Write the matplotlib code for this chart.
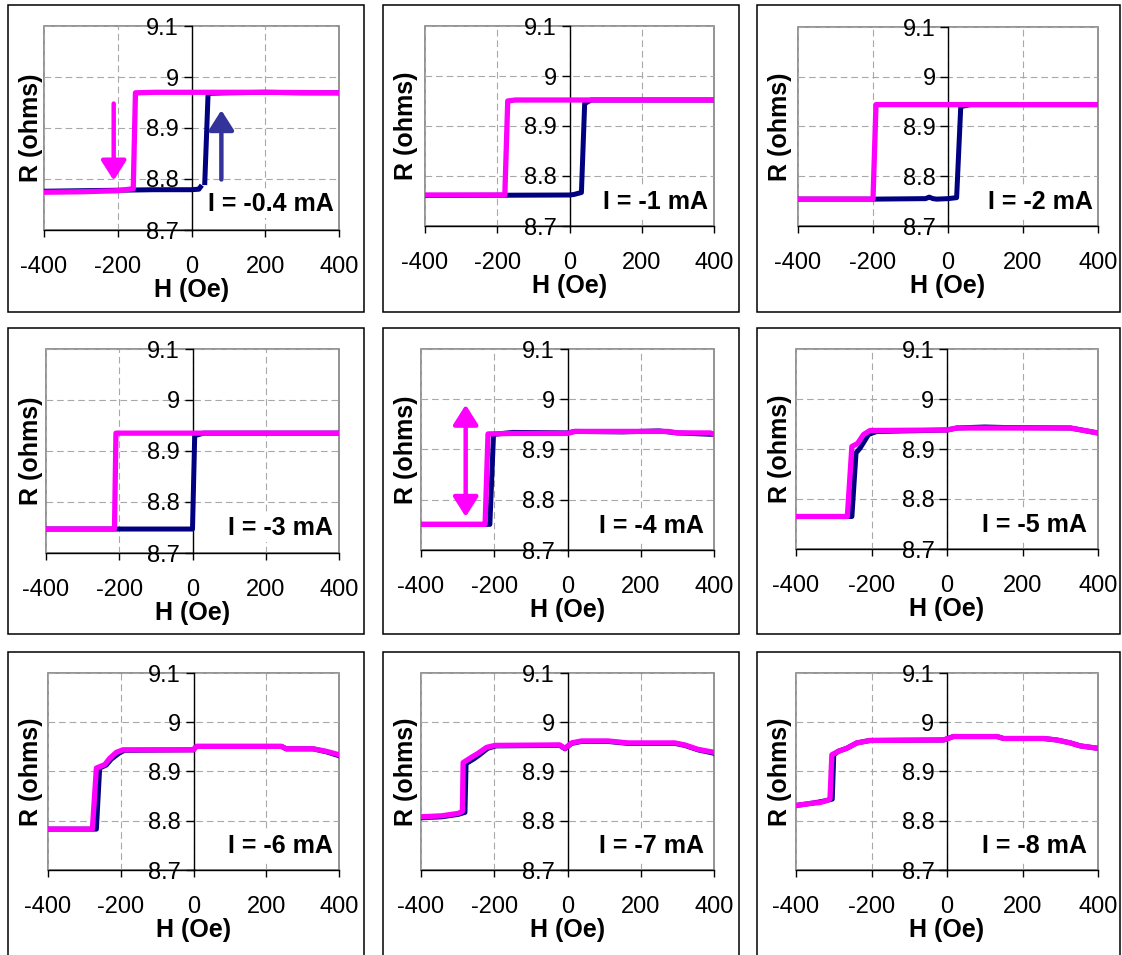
import numpy as np
import matplotlib
matplotlib.use('Agg')
import matplotlib.pyplot as plt
from matplotlib.patches import Rectangle

plt.rcParams['font.family'] = ['Liberation Sans', 'DejaVu Sans']
plt.rcParams['axes.unicode_minus'] = False

nan = np.nan

# ---------------- data ----------------
panel_labels = ['I = -0.4 mA', 'I = -1 mA', 'I = -2 mA',
                'I = -3 mA', 'I = -4 mA', 'I = -5 mA',
                'I = -6 mA', 'I = -7 mA', 'I = -8 mA']

x_ticks = [-400, -200, 0, 200, 400]
x_tick_labels = ['-400', '-200', '0', '200', '400']
y_ticks = [8.7, 8.8, 8.9, 9.0, 9.1]
y_tick_labels = ['8.7', '8.8', '8.9', '9', '9.1']

# blue sweep (up) and magenta sweep (down), one pair per panel
h_up_1 = [-400, -300, -200, -100, 0, 20, 24, nan, 36, 45, 100, 200, 300, 400]
r_up_1 = [8.776, 8.777, 8.778, 8.779, 8.779, 8.780, 8.784, nan, 8.793, 8.968, 8.969, 8.970, 8.969, 8.969]
h_dn_1 = [-400, -300, -200, -158, -152, -100, 0, 200, 400]
r_dn_1 = [8.774, 8.775, 8.777, 8.781, 8.969, 8.970, 8.970, 8.970, 8.969]

h_up_2 = [-400, 0, 12, 33, 42, 60, 400]
r_up_2 = [8.761, 8.762, 8.763, 8.767, 8.945, 8.952, 8.952]
h_dn_2 = [-400, -179, -171, -150, 400]
r_dn_2 = [8.762, 8.762, 8.950, 8.952, 8.952]

h_up_3 = [-400, -200, -60, -50, -40, -30, 0, 23, 34, 60, 400]
r_up_3 = [8.754, 8.754, 8.755, 8.758, 8.755, 8.754, 8.755, 8.757, 8.940, 8.944, 8.944]
h_dn_3 = [-400, -200, -192, -150, 400]
r_dn_3 = [8.754, 8.754, 8.944, 8.944, 8.944]

h_up_4 = [-400, 0, 6, 30, 400]
r_up_4 = [8.747, 8.747, 8.930, 8.935, 8.935]
h_dn_4 = [-400, -213, -209, -150, 400]
r_dn_4 = [8.747, 8.747, 8.935, 8.935, 8.935]

h_up_5 = [-400, -212, -202, -150, 0, 20, 150, 250, 275, 300, 400]
r_up_5 = [8.751, 8.751, 8.930, 8.934, 8.933, 8.936, 8.935, 8.937, 8.935, 8.933, 8.930]
h_dn_5 = [-400, -225, -217, -150, 0, 20, 150, 275, 300, 390, 400]
r_dn_5 = [8.751, 8.751, 8.931, 8.932, 8.932, 8.936, 8.936, 8.936, 8.933, 8.933, 8.930]

h_up_6 = [-400, -252, -241, -230, -208, -186, 0, 26, 100, 150, 327, 400]
r_up_6 = [8.765, 8.765, 8.892, 8.902, 8.929, 8.935, 8.938, 8.942, 8.944, 8.943, 8.942, 8.932]
h_dn_6 = [-400, -264, -252, -237, -221, -204, 0, 26, 327, 400]
r_dn_6 = [8.765, 8.765, 8.905, 8.911, 8.929, 8.937, 8.938, 8.942, 8.942, 8.932]

h_up_7 = [-400, -267, -258, -240, -226, -205, -190, 0, 8, 242, 255, 329, 365, 400]
r_up_7 = [8.783, 8.783, 8.907, 8.913, 8.925, 8.937, 8.943, 8.944, 8.951, 8.951, 8.946, 8.946, 8.940, 8.932]
h_dn_7 = [-400, -278, -267, -244, -230, -212, -194, -1, 8, 242, 255, 329, 365, 400]
r_dn_7 = [8.783, 8.783, 8.907, 8.914, 8.927, 8.939, 8.944, 8.944, 8.951, 8.951, 8.946, 8.946, 8.941, 8.934]

h_up_8 = [-400, -344, -298, -280, -277, -255, -240, -218, -195, -21, -7, 11, 38, 111, 165, 293, 320, 356, 400]
r_up_8 = [8.806, 8.808, 8.813, 8.817, 8.916, 8.926, 8.934, 8.947, 8.952, 8.953, 8.946, 8.957, 8.961, 8.961, 8.957, 8.957, 8.953, 8.944, 8.937]
h_dn_8 = [-400, -344, -298, -287, -285, -262, -244, -221, -198, -21, -7, 11, 38, 111, 165, 293, 320, 356, 400]
r_dn_8 = [8.808, 8.810, 8.815, 8.819, 8.918, 8.929, 8.937, 8.949, 8.953, 8.954, 8.947, 8.958, 8.962, 8.962, 8.958, 8.958, 8.954, 8.945, 8.939]

h_up_9 = [-400, -354, -319, -304, -300, -288, -266, -239, -204, -9, 17, 132, 150, 256, 291, 327, 353, 400]
r_up_9 = [8.831, 8.836, 8.841, 8.844, 8.934, 8.941, 8.947, 8.958, 8.963, 8.964, 8.971, 8.971, 8.967, 8.967, 8.964, 8.958, 8.952, 8.947]
h_dn_9 = [-400, -354, -336, -319, -310, -305, -288, -266, -239, -204, -9, 17, 132, 150, 256, 291, 327, 353, 400]
r_dn_9 = [8.831, 8.836, 8.837, 8.841, 8.844, 8.934, 8.941, 8.947, 8.958, 8.963, 8.964, 8.971, 8.971, 8.967, 8.967, 8.964, 8.958, 8.952, 8.947]

h_up = [h_up_1, h_up_2, h_up_3, h_up_4, h_up_5, h_up_6, h_up_7, h_up_8, h_up_9]
r_up = [r_up_1, r_up_2, r_up_3, r_up_4, r_up_5, r_up_6, r_up_7, r_up_8, r_up_9]
h_dn = [h_dn_1, h_dn_2, h_dn_3, h_dn_4, h_dn_5, h_dn_6, h_dn_7, h_dn_8, h_dn_9]
r_dn = [r_dn_1, r_dn_2, r_dn_3, r_dn_4, r_dn_5, r_dn_6, r_dn_7, r_dn_8, r_dn_9]

# arrows
arrow_panel = [0, 0, 4]
arrow_h = [-211, 81, -278]
arrow_r_from = [8.948, 8.799, 8.766]
arrow_r_to = [8.797, 8.935, 8.989]
arrow_style = ['-|>', '-|>', '<|-|>']
arrow_color = ['#FF00FF', '#333399', '#FF00FF']

# ---------------- layout (pixels) ----------------
W, Hpx = 1122, 955
col_box = [(8, 364), (383, 739), (757, 1120)]
row_box = [(5, 312), (328, 634), (652, 965)]
axes_px = [(44, 339, 26, 230), (425, 714, 26, 226), (798, 1098, 27, 226),
           (46, 339, 349, 553), (421, 714, 349, 550), (796, 1098, 349, 549),
           (48, 339, 673, 870), (421, 714, 673, 870), (796, 1098, 673, 870)]
label_px = [(334, 211), (708, 209), (1093, 209),
            (333, 535), (704, 533), (1087, 532),
            (333, 853), (704, 853), (1087, 853)]

BLUE = '#000080'
MAG = '#FF00FF'

fig = plt.figure(figsize=(W / 100, Hpx / 100), dpi=100)
fig.patch.set_facecolor('white')

for (rt, rb) in row_box:
    for (cl, cr) in col_box:
        fig.add_artist(Rectangle((cl / W, 1 - rb / Hpx), (cr - cl) / W, (rb - rt) / Hpx,
                                 transform=fig.transFigure, fill=False,
                                 edgecolor='black', lw=1.1))

for i in range(9):
    l, r, t, b = axes_px[i]
    ax = fig.add_axes([l / W, 1 - b / Hpx, (r - l) / W, (b - t) / Hpx])
    ax.set_xlim(-400, 400)
    ax.set_ylim(8.7, 9.1)
    ax.set_axisbelow(True)
    ax.patch.set_edgecolor('#808080')
    ax.patch.set_linewidth(1.2)
    ax.grid(True, color='#a8a8a8', linestyle=(0, (6, 3.5)), lw=0.8)
    for s in ['top', 'right']:
        ax.spines[s].set_visible(False)
    ax.spines['left'].set_position(('data', 0))
    ax.spines['left'].set_color('black')
    ax.spines['bottom'].set_color('black')
    ax.spines['left'].set_linewidth(1.0)
    ax.spines['bottom'].set_linewidth(1.0)

    ax.set_xticks(x_ticks)
    ax.set_xticklabels(x_tick_labels)
    ax.set_yticks(y_ticks)
    ax.set_yticklabels(y_tick_labels)
    ax.tick_params(axis='x', direction='out', length=5, width=1, pad=14, labelsize=17)
    ax.tick_params(axis='y', direction='out', length=6, width=1, pad=3, labelsize=17)

    ax.plot(h_up[i], r_up[i], color=BLUE, lw=3.6, zorder=3)
    ax.plot(h_dn[i], r_dn[i], color=MAG, lw=3.8, zorder=4)

    for k in range(len(arrow_panel)):
        if arrow_panel[k] == i:
            ax.annotate('', xy=(arrow_h[k], arrow_r_to[k]), xytext=(arrow_h[k], arrow_r_from[k]),
                        arrowprops=dict(arrowstyle=arrow_style[k] + ',head_length=0.6,head_width=0.38',
                                        mutation_scale=20, lw=3.2, color=arrow_color[k],
                                        shrinkA=0, shrinkB=0), zorder=5)

    cx = (l + r) / 2
    fig.text(cx / W, 1 - (b + 67) / Hpx, 'H (Oe)', ha='center', va='baseline',
             fontsize=18, fontweight='bold')
    col = i % 3
    yl_x = col_box[col][0] + 23
    fig.text(yl_x / W, 1 - ((t + b) / 2) / Hpx, 'R (ohms)', ha='center', va='center',
             rotation=90, fontsize=18, fontweight='bold')

    lx, ly = label_px[i]
    fig.text(lx / W, 1 - ly / Hpx, panel_labels[i], ha='right', va='baseline',
             fontsize=18, fontweight='bold', zorder=6,
             bbox=dict(facecolor='white', edgecolor='none', pad=1.5))

fig.savefig('out.png', dpi=100, facecolor='white')
